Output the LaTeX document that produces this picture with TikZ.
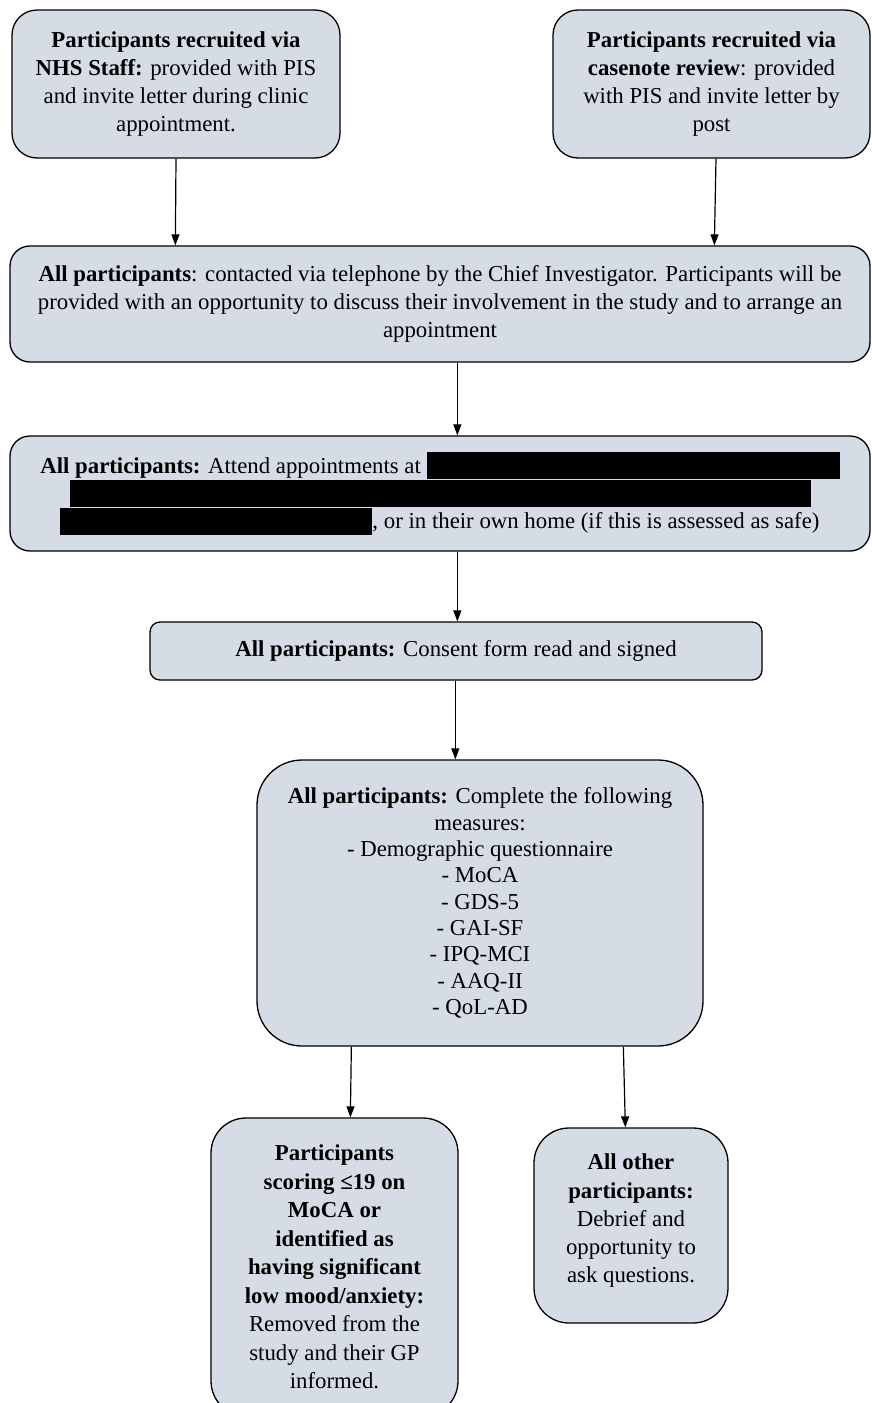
\documentclass[tikz,border=0pt]{standalone}
\usepackage{fontspec}
\setmainfont{Liberation Serif}
\usetikzlibrary{arrows.meta}

\definecolor{boxfill}{HTML}{D6DCE5}
\tikzset{
  stagebox/.style={draw=black, line width=1.3pt, fill=boxfill, align=center,
    inner sep=0pt, font=\fontsize{22.8}{27.8}\selectfont},
  flow/.style={draw=black, line width=1.2pt, -{Triangle[length=11pt,width=8pt]}},
}

\begin{document}
\begin{tikzpicture}[x=1pt,y=-1pt]
\fill[white] (0,0) rectangle (872,1403);
\useasboundingbox (0,0) rectangle (872,1403);

% recruitment routes
\node[stagebox, minimum width=328pt, minimum height=148pt, rounded corners=25pt] (nhs) at (176,84)
  {\textbf{Participants recruited via}\\ \textbf{NHS Staff:} provided with PIS\\ and invite letter during clinic\\ appointment.};
\node[stagebox, minimum width=317pt, minimum height=148pt, rounded corners=25pt] (casenote) at (711.5,84)
  {\textbf{Participants recruited via}\\ \textbf{casenote review}: provided\\ with PIS and invite letter by\\ post};

% telephone contact
\node[stagebox, minimum width=860pt, minimum height=116pt, rounded corners=20pt] (phone) at (440,304)
  {\textbf{All participants}: contacted via telephone by the Chief Investigator. Participants will be\\
   provided with an opportunity to discuss their involvement in the study and to arrange an\\
   appointment};

% appointment venue (location withheld)
\node[stagebox, minimum width=860pt, minimum height=115pt, rounded corners=20pt] (venue) at (440,493.5)
  {\textbf{All participants:} Attend appointments at \rule[-6pt]{413pt}{27pt}\\
   \rule[-6pt]{741pt}{27pt}\\
   \rule[-6pt]{312pt}{27pt}, or in their own home (if this is assessed as safe)};

% consent
\node[stagebox, minimum width=612pt, minimum height=58pt, rounded corners=10pt] (consent) at (456,651)
  {\textbf{All participants:} Consent form read and signed\\[-22pt]};

% measures
\node[stagebox, minimum width=446pt, minimum height=286pt, rounded corners=45pt,
      font=\fontsize{22.8}{26.3}\selectfont] (measures) at (480,903)
  {\textbf{All participants:} Complete the following\\ measures:\\ - Demographic questionnaire\\
   - MoCA\\ - GDS-5\\ - GAI-SF\\ - IPQ-MCI\\ - AAQ-II\\ - QoL-AD};

% outcomes
\node[stagebox, minimum width=247pt, minimum height=298pt, rounded corners=35pt,
      font=\fontsize{22.8}{28.5}\selectfont] (removed) at (334.5,1267)
  {\textbf{Participants}\\ \textbf{scoring ≤19 on}\\ \textbf{MoCA or}\\ \textbf{identified as}\\
   \textbf{having significant}\\ \textbf{low mood/anxiety:}\\ Removed from the\\ study and their GP\\ informed.};
\node[stagebox, minimum width=194pt, minimum height=195pt, rounded corners=35pt,
      font=\fontsize{22.8}{28.2}\selectfont] (debrief) at (631,1225.5)
  {\textbf{All other}\\ \textbf{participants:}\\ Debrief and\\ opportunity to\\ ask questions.\\[-14pt]};

% connectors
\draw[flow] (nhs.south) -- ([xshift=166pt]phone.north west);
\draw[flow] ([xshift=4.5pt]casenote.south) -- ([xshift=705pt]phone.north west);
\draw[flow] ([xshift=448pt]phone.south west) -- ([xshift=448pt]venue.north west);
\draw[flow] ([xshift=448pt]venue.south west) -- ([xshift=308pt]consent.north west);
\draw[flow] ([xshift=306pt]consent.south west) -- ([xshift=199pt]measures.north west);
\draw[flow] ([xshift=95pt]measures.south west) -- ([xshift=140pt]removed.north west);
\draw[flow] ([xshift=367pt]measures.south west) -- ([xshift=92pt]debrief.north west);
\end{tikzpicture}
\end{document}
